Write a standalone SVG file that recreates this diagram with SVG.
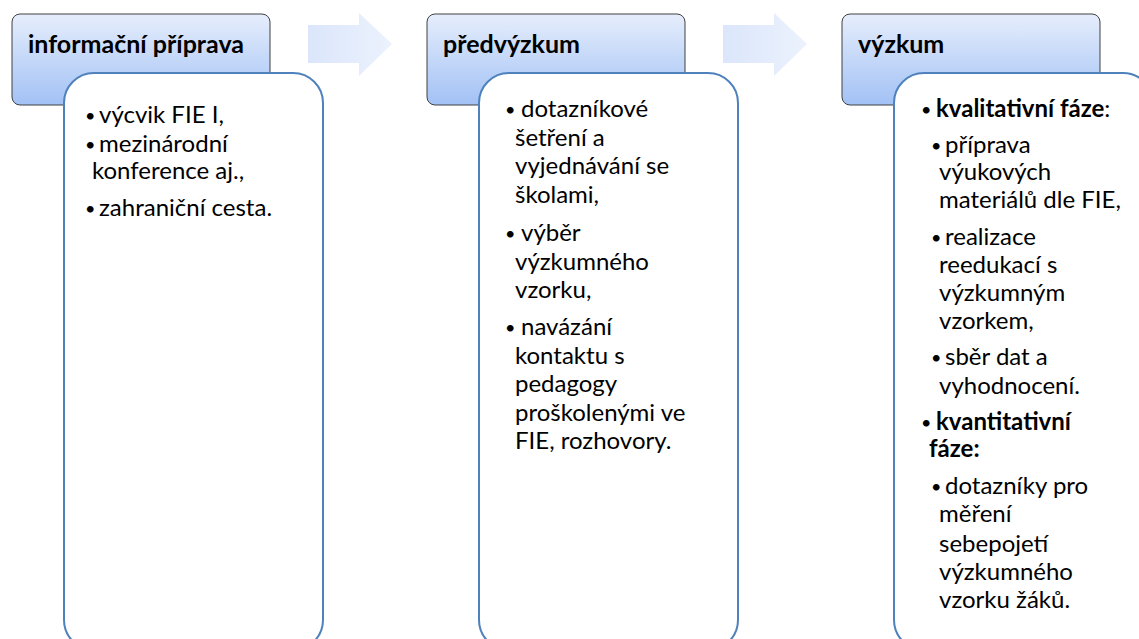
<svg xmlns="http://www.w3.org/2000/svg" width="1139" height="639" viewBox="0 0 1139 639">
<defs>
<linearGradient id="hdr" x1="0" y1="0" x2="0" y2="1">
<stop offset="0" stop-color="#e6eefc"/>
<stop offset="1" stop-color="#a2c1f5"/>
</linearGradient>
<linearGradient id="arr" x1="0" y1="0" x2="1" y2="0">
<stop offset="0" stop-color="#dbe6fb"/>
<stop offset="1" stop-color="#ecf2fd"/>
</linearGradient>
</defs>
<style>
.hdr{fill:url(#hdr);stroke:#404040;stroke-width:1}
.box{fill:#ffffff;stroke:#4f81bd;stroke-width:2}
.arrow{fill:url(#arr);stroke:none}
.ht{font-family:Lato,"Liberation Sans",sans-serif;font-weight:bold;font-size:25px;fill:#000}
.t{font-family:Lato,"Liberation Sans",sans-serif;font-size:24px;fill:#000}
.dot{font-size:18px}
.b{font-weight:bold}
</style>
<rect width="1139" height="639" fill="#ffffff"/>
<g id="connectors">
<polygon class="arrow" points="308,25 359,25 359,13 392,44 359,76 359,63 308,63"/>
<polygon class="arrow" points="723,25 774,25 774,13 807,44 774,76 774,63 723,63"/>
</g>
<g id="node1">
<rect class="hdr" x="12" y="14" width="258" height="91" rx="8"/>
<text class="ht" x="28" y="53">informační příprava</text>
<rect class="box" x="64" y="73" width="259" height="577" rx="30"/>
<text class="t">
<tspan x="85" y="122" class="dot">•</tspan><tspan x="99" y="123">výcvik FIE I,</tspan>
<tspan x="85" y="151" class="dot">•</tspan><tspan x="99" y="152">mezinárodní</tspan>
<tspan x="92" y="179">konference aj.,</tspan>
<tspan x="85" y="215" class="dot">•</tspan><tspan x="99" y="216">zahraniční cesta.</tspan>
</text>
</g>
<g id="node2">
<rect class="hdr" x="427" y="14" width="258" height="91" rx="8"/>
<text class="ht" x="443" y="53">předvýzkum</text>
<rect class="box" x="479" y="73" width="259" height="577" rx="30"/>
<text class="t">
<tspan x="505" y="116" class="dot">•</tspan><tspan x="521" y="117">dotazníkové</tspan>
<tspan x="515" y="146">šetření a</tspan>
<tspan x="515" y="174">vyjednávání se</tspan>
<tspan x="515" y="203">školami,</tspan>
<tspan x="505" y="240" class="dot">•</tspan><tspan x="521" y="241">výběr</tspan>
<tspan x="515" y="270">výzkumného</tspan>
<tspan x="515" y="298">vzorku,</tspan>
<tspan x="505" y="334" class="dot">•</tspan><tspan x="521" y="335">navázání</tspan>
<tspan x="515" y="364">kontaktu s</tspan>
<tspan x="515" y="392">pedagogy</tspan>
<tspan x="515" y="421">proškolenými ve</tspan>
<tspan x="515" y="449">FIE, rozhovory.</tspan>
</text>
</g>
<g id="node3">
<rect class="hdr" x="842" y="14" width="258" height="91" rx="8"/>
<text class="ht" x="858" y="53">výzkum</text>
<rect class="box" x="894" y="73" width="259" height="577" rx="30"/>
<text class="t">
<tspan x="921" y="116" class="dot">•</tspan><tspan x="936" y="117" class="b">kvalitativní fáze</tspan><tspan>:</tspan>
<tspan x="931" y="152" class="dot">•</tspan><tspan x="945" y="153">příprava</tspan>
<tspan x="939" y="180">výukových</tspan>
<tspan x="939" y="208">materiálů dle FIE,</tspan>
<tspan x="931" y="244" class="dot">•</tspan><tspan x="945" y="245">realizace</tspan>
<tspan x="939" y="273">reedukací s</tspan>
<tspan x="939" y="301">výzkumným</tspan>
<tspan x="939" y="329">vzorkem,</tspan>
<tspan x="931" y="364" class="dot">•</tspan><tspan x="945" y="365">sběr dat a</tspan>
<tspan x="939" y="394">vyhodnocení.</tspan>
<tspan x="921" y="429" class="dot">•</tspan><tspan x="936" y="430" class="b">kvantitativní</tspan>
<tspan x="929" y="457" class="b">fáze:</tspan>
<tspan x="931" y="493" class="dot">•</tspan><tspan x="945" y="494">dotazníky pro</tspan>
<tspan x="939" y="522">měření</tspan>
<tspan x="939" y="552">sebepojetí</tspan>
<tspan x="939" y="580">výzkumného</tspan>
<tspan x="939" y="608">vzorku žáků.</tspan>
</text>
</g>
</svg>
